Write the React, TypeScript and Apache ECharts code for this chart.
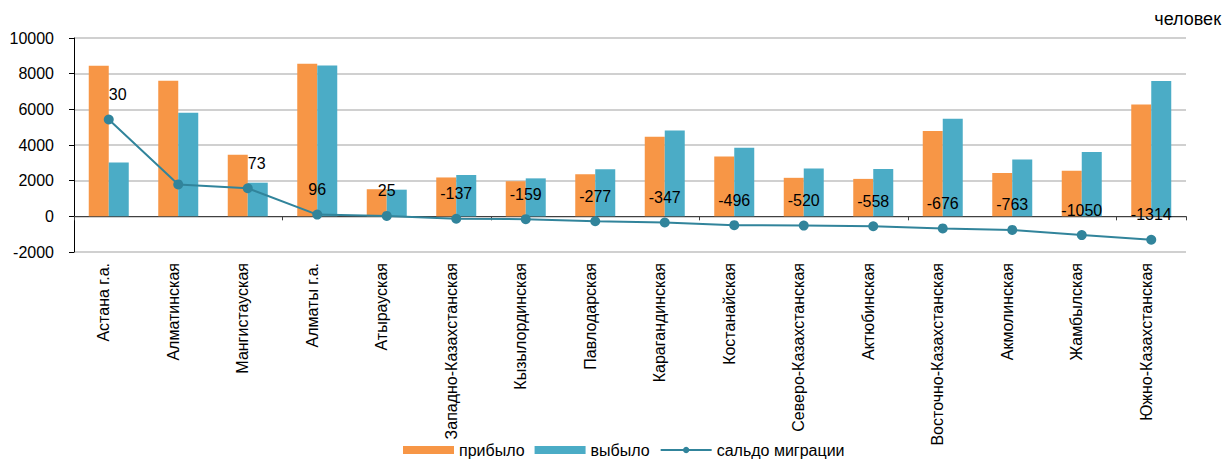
import React, { useEffect, useRef } from "react";
import * as echarts from "echarts";

const regions = [
  "Астана г.а.",
  "Алматинская",
  "Мангистауская",
  "Алматы г.а.",
  "Атырауская",
  "Западно-Казахстанская",
  "Кызылординская",
  "Павлодарская",
  "Карагандинская",
  "Костанайская",
  "Северо-Казахстанская",
  "Актюбинская",
  "Восточно-Казахстанская",
  "Акмолинская",
  "Жамбылская",
  "Южно-Казахстанская",
];

const arrived = [8450, 7600, 3460, 8550, 1520, 2180, 1970, 2360, 4460, 3350, 2160, 2100, 4790, 2430, 2560, 6270];
const departed = [3020, 5810, 1887, 8454, 1495, 2317, 2129, 2637, 4807, 3846, 2680, 2658, 5466, 3193, 3610, 7584];
const balance = [5430, 1790, 1573, 96, 25, -137, -159, -277, -347, -496, -520, -558, -676, -763, -1050, -1314];
// labels as they appear in the reference picture
const balanceLabels = ["30", "", "73", "96", "25", "-137", "-159", "-277", "-347", "-496", "-520", "-558", "-676", "-763", "-1050", "-1314"];

const yTicks = { min: -2000, max: 10000, interval: 2000 };

const FONT = 'Arial, "Liberation Sans", sans-serif';
const FS = 16;

export default function App() {
  const ref = useRef<HTMLDivElement>(null);

  useEffect(() => {
    if (!ref.current) return;
    const chart = echarts.init(ref.current, undefined, { renderer: "svg" });
    const lineData = balance.map((v, i) => {
      const lbl = balanceLabels[i];
      const shiftLeft = i === 0 || i === 2;
      return {
        value: v,
        label: {
          show: lbl !== "",
          formatter: () => lbl,
          align: shiftLeft ? "left" : "center",
        },
      };
    });
    chart.setOption({
      animation: false,
      textStyle: { fontFamily: FONT },
      graphic: [
        {
          type: "text",
          right: 2,
          top: 10,
          style: { text: "человек", fontSize: 18, fontFamily: FONT, fill: "#000" },
        },
      ],
      grid: { left: 74, right: 37, top: 38, bottom: 212, containLabel: false },
      legend: {
        left: 398,
        bottom: 1,
        itemWidth: 51,
        itemHeight: 8,
        itemGap: 10,
        textStyle: { fontSize: FS, color: "#000", fontFamily: FONT },
        data: [
          { name: "прибыло", icon: "rect" },
          { name: "выбыло", icon: "rect" },
          { name: "сальдо миграции" },
        ],
      },
      xAxis: [
        {
          type: "category",
          data: regions,
          position: "bottom",
          axisLine: { show: false, onZero: false },
          axisTick: { show: false },
          axisLabel: {
            interval: 0,
            rotate: 90,
            margin: 11,
            fontSize: FS,
            color: "#000",
            fontFamily: FONT,
            verticalAlign: "bottom",
            lineHeight: 10,
          },
        },
        {
          type: "category",
          data: regions,
          position: "bottom",
          axisLine: { show: true, onZero: true, lineStyle: { color: "#404040", width: 1 } },
          axisTick: { show: true, length: 4, lineStyle: { color: "#404040" } },
          axisLabel: { show: false },
        },
      ],
      yAxis: {
        type: "value",
        min: yTicks.min,
        max: yTicks.max,
        interval: yTicks.interval,
        axisLine: { show: true, lineStyle: { color: "#000", width: 1 } },
        axisTick: { show: true, length: 5, lineStyle: { color: "#000" } },
        axisLabel: {
          fontSize: FS,
          color: "#000",
          margin: 20,
          fontFamily: FONT,
          formatter: (v: number) => String(v),
        },
        splitLine: { show: true, lineStyle: { color: "#C0C0C0", width: 1.5 } },
      },
      series: [
        {
          name: "прибыло",
          type: "bar",
          data: arrived,
          barWidth: 20,
          barGap: "0%",
          itemStyle: { color: "#F79646" },
        },
        {
          name: "выбыло",
          type: "bar",
          data: departed,
          barWidth: 20,
          barGap: "0%",
          itemStyle: { color: "#4BACC6" },
        },
        {
          name: "сальдо миграции",
          type: "line",
          data: lineData,
          symbol: "circle",
          symbolSize: 10,
          lineStyle: { color: "#31849B", width: 2 },
          itemStyle: { color: "#31849B" },
          label: {
            show: true,
            position: "top",
            distance: 12,
            fontSize: FS,
            color: "#000",
            fontFamily: FONT,
          },
          z: 3,
        },
      ],
    });
    return () => chart.dispose();
  }, []);

  return (
    <div
      ref={ref}
      style={{ position: "fixed", left: 0, top: 0, width: 1223, height: 464, background: "#fff" }}
    />
  );
}
